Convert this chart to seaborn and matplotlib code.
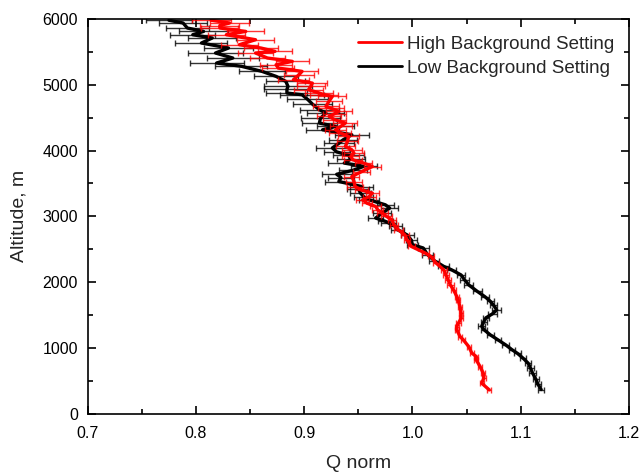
import numpy as np
import pandas as pd
import seaborn as sns
import matplotlib
matplotlib.use("Agg")
import matplotlib.pyplot as plt
from matplotlib.ticker import MultipleLocator
from matplotlib.lines import Line2D

# Low background setting (black)
alt_low = [370, 450, 530, 620, 700, 770, 850, 920, 975, 1050,
           1125, 1200, 1280, 1330, 1400, 1460, 1520, 1580, 1650, 1710,
           1780, 1860, 1960, 2040, 2110, 2190, 2240, 2330, 2420, 2520,
           2570, 2640, 2720, 2800, 2850, 2900, 2925, 2975, 3050, 3126,
           3176, 3252, 3300, 3354, 3420, 3454, 3530, 3590, 3640, 3700,
           3760, 3810, 3870, 3930, 3980, 4040, 4110, 4164, 4240, 4316,
           4367, 4418, 4490, 4570, 4620, 4700, 4780, 4848, 4874, 4930,
           4975, 5051, 5127, 5203, 5280, 5330, 5406, 5482, 5558, 5634,
           5710, 5760, 5810, 5862, 5938, 5980]
q_low = [1.119, 1.116, 1.114, 1.111, 1.109, 1.107, 1.102, 1.097, 1.092, 1.086,
         1.079, 1.072, 1.066, 1.064, 1.066, 1.068, 1.074, 1.078, 1.075, 1.072,
         1.067, 1.060, 1.052, 1.048, 1.045, 1.036, 1.029, 1.020, 1.014, 1.010,
         1.000, 0.999, 0.995, 0.986, 0.984, 0.978, 0.975, 0.966, 0.972, 0.979,
         0.975, 0.960, 0.955, 0.952, 0.950, 0.953, 0.932, 0.934, 0.930, 0.945,
         0.955, 0.937, 0.943, 0.941, 0.930, 0.926, 0.932, 0.936, 0.944, 0.917,
         0.929, 0.914, 0.915, 0.920, 0.914, 0.908, 0.903, 0.898, 0.884, 0.884,
         0.885, 0.883, 0.874, 0.861, 0.842, 0.819, 0.834, 0.818, 0.830, 0.805,
         0.815, 0.797, 0.807, 0.792, 0.788, 0.775]
err_low = [0.003, 0.003, 0.003, 0.003, 0.003, 0.003, 0.003, 0.003, 0.003, 0.003,
           0.003, 0.003, 0.003, 0.003, 0.003, 0.003, 0.004, 0.004, 0.003, 0.003,
           0.004, 0.004, 0.004, 0.004, 0.004, 0.004, 0.005, 0.005, 0.005, 0.005,
           0.005, 0.005, 0.006, 0.006, 0.006, 0.007, 0.007, 0.007, 0.008, 0.008,
           0.008, 0.009, 0.009, 0.010, 0.010, 0.011, 0.013, 0.012, 0.014, 0.013,
           0.012, 0.015, 0.013, 0.014, 0.012, 0.015, 0.014, 0.013, 0.016, 0.015,
           0.017, 0.016, 0.018, 0.017, 0.018, 0.018, 0.019, 0.020, 0.019, 0.021,
           0.022, 0.018, 0.020, 0.021, 0.024, 0.025, 0.024, 0.025, 0.023, 0.024,
           0.022, 0.021, 0.023, 0.020, 0.022, 0.021]

# High background setting (red)
alt_high = [365, 466, 540, 618, 719, 820, 871, 922, 1023, 1125,
            1175, 1277, 1327, 1378, 1450, 1530, 1631, 1733, 1783, 1884,
            1960, 2036, 2112, 2188, 2290, 2391, 2442, 2543, 2644, 2720,
            2796, 2870, 2948, 3000, 3050, 3100, 3151, 3200, 3252, 3300,
            3354, 3400, 3454, 3530, 3606, 3680, 3758, 3810, 3860, 3910,
            3960, 4012, 4062, 4140, 4214, 4270, 4316, 4370, 4418, 4470,
            4519, 4560, 4595, 4640, 4671, 4750, 4823, 4850, 4874, 4924,
            4975, 5025, 5076, 5150, 5203, 5253, 5304, 5355, 5406, 5482,
            5507, 5558, 5608, 5684, 5760, 5810, 5862, 5900, 5938, 5980]
q_high = [1.071, 1.064, 1.066, 1.0655, 1.0625, 1.059, 1.059, 1.055, 1.052, 1.047,
          1.044, 1.041, 1.041, 1.0425, 1.045, 1.045, 1.044, 1.042, 1.041, 1.038,
          1.035, 1.033, 1.031, 1.029, 1.022, 1.017, 1.012, 0.999, 0.995, 0.993,
          0.987, 0.983, 0.981, 0.976, 0.972, 0.968, 0.966, 0.958, 0.954, 0.960,
          0.963, 0.953, 0.947, 0.946, 0.944, 0.953, 0.963, 0.955, 0.945, 0.943,
          0.946, 0.944, 0.938, 0.940, 0.941, 0.933, 0.929, 0.934, 0.938, 0.928,
          0.923, 0.928, 0.932, 0.925, 0.920, 0.923, 0.926, 0.918, 0.914, 0.904,
          0.906, 0.9075, 0.890, 0.895, 0.898, 0.876, 0.874, 0.889, 0.866, 0.855,
          0.873, 0.860, 0.840, 0.855, 0.828, 0.846, 0.822, 0.822, 0.831, 0.814]
err_high = [0.002, 0.002, 0.002, 0.002, 0.002, 0.002, 0.002, 0.002, 0.002, 0.002,
            0.002, 0.002, 0.002, 0.002, 0.002, 0.002, 0.002, 0.002, 0.002, 0.002,
            0.003, 0.003, 0.003, 0.003, 0.003, 0.003, 0.003, 0.003, 0.003, 0.004,
            0.004, 0.004, 0.004, 0.005, 0.005, 0.005, 0.005, 0.005, 0.006, 0.006,
            0.006, 0.006, 0.007, 0.007, 0.007, 0.008, 0.008, 0.008, 0.008, 0.008,
            0.009, 0.009, 0.009, 0.010, 0.010, 0.010, 0.010, 0.010, 0.011, 0.011,
            0.011, 0.011, 0.012, 0.012, 0.012, 0.012, 0.013, 0.013, 0.013, 0.013,
            0.013, 0.014, 0.014, 0.014, 0.015, 0.015, 0.015, 0.015, 0.016, 0.016,
            0.016, 0.016, 0.017, 0.017, 0.017, 0.017, 0.017, 0.018, 0.018, 0.018]

labels = ["High Background Setting", "Low Background Setting"]
colors = ["#ff0000", "#000000"]

sns.set_style("ticks")
plt.rcParams['font.family'] = ['Liberation Sans', 'DejaVu Sans']

fig, ax = plt.subplots(figsize=(6.41, 4.73), dpi=100)
fig.subplots_adjust(left=0.137, right=0.981, top=0.960, bottom=0.125)

# black first so the red one lies on top
ax.errorbar(q_low, alt_low, xerr=err_low, fmt='none', ecolor=colors[1],
            elinewidth=1.0, capsize=2.5, capthick=1.0, alpha=0.8)
sns.lineplot(x=q_low, y=alt_low, sort=False, estimator=None, color=colors[1],
             lw=2.4, ax=ax)
ax.errorbar(q_high, alt_high, xerr=err_high, fmt='none', ecolor=colors[0],
            elinewidth=1.0, capsize=2.5, capthick=1.0, alpha=0.8)
sns.lineplot(x=q_high, y=alt_high, sort=False, estimator=None, color=colors[0],
             lw=2.4, ax=ax)

ax.set_xlim(0.7, 1.2)
ax.set_ylim(0, 6000)
ax.xaxis.set_major_locator(MultipleLocator(0.1))
ax.xaxis.set_minor_locator(MultipleLocator(0.05))
ax.yaxis.set_major_locator(MultipleLocator(1000))
ax.yaxis.set_minor_locator(MultipleLocator(500))
ax.xaxis.set_major_formatter(matplotlib.ticker.FormatStrFormatter('%.1f'))

ax.tick_params(which='both', direction='in', top=True, right=True, width=1.2,
               labelsize=11.5, colors='black')
ax.tick_params(which='major', length=6)
ax.tick_params(which='minor', length=3.5)
ax.tick_params(axis='x', which='major', pad=9)
ax.tick_params(axis='y', which='major', pad=7)
for s in ax.spines.values():
    s.set_linewidth(1.2)
    s.set_color('black')

ax.set_xlabel("Q norm", fontsize=14, labelpad=10)
ax.set_ylabel("Altitude, m", fontsize=14, labelpad=11)

handles = [Line2D([], [], color=c, lw=2) for c in colors]
ax.legend(handles, labels, loc='upper left', bbox_to_anchor=(0.485, 0.976),
          frameon=False, fontsize=13.5, handlelength=2.35, handletextpad=0.27,
          labelspacing=0.35, borderaxespad=0, borderpad=0.4)

fig.savefig("out.png", dpi=100)
